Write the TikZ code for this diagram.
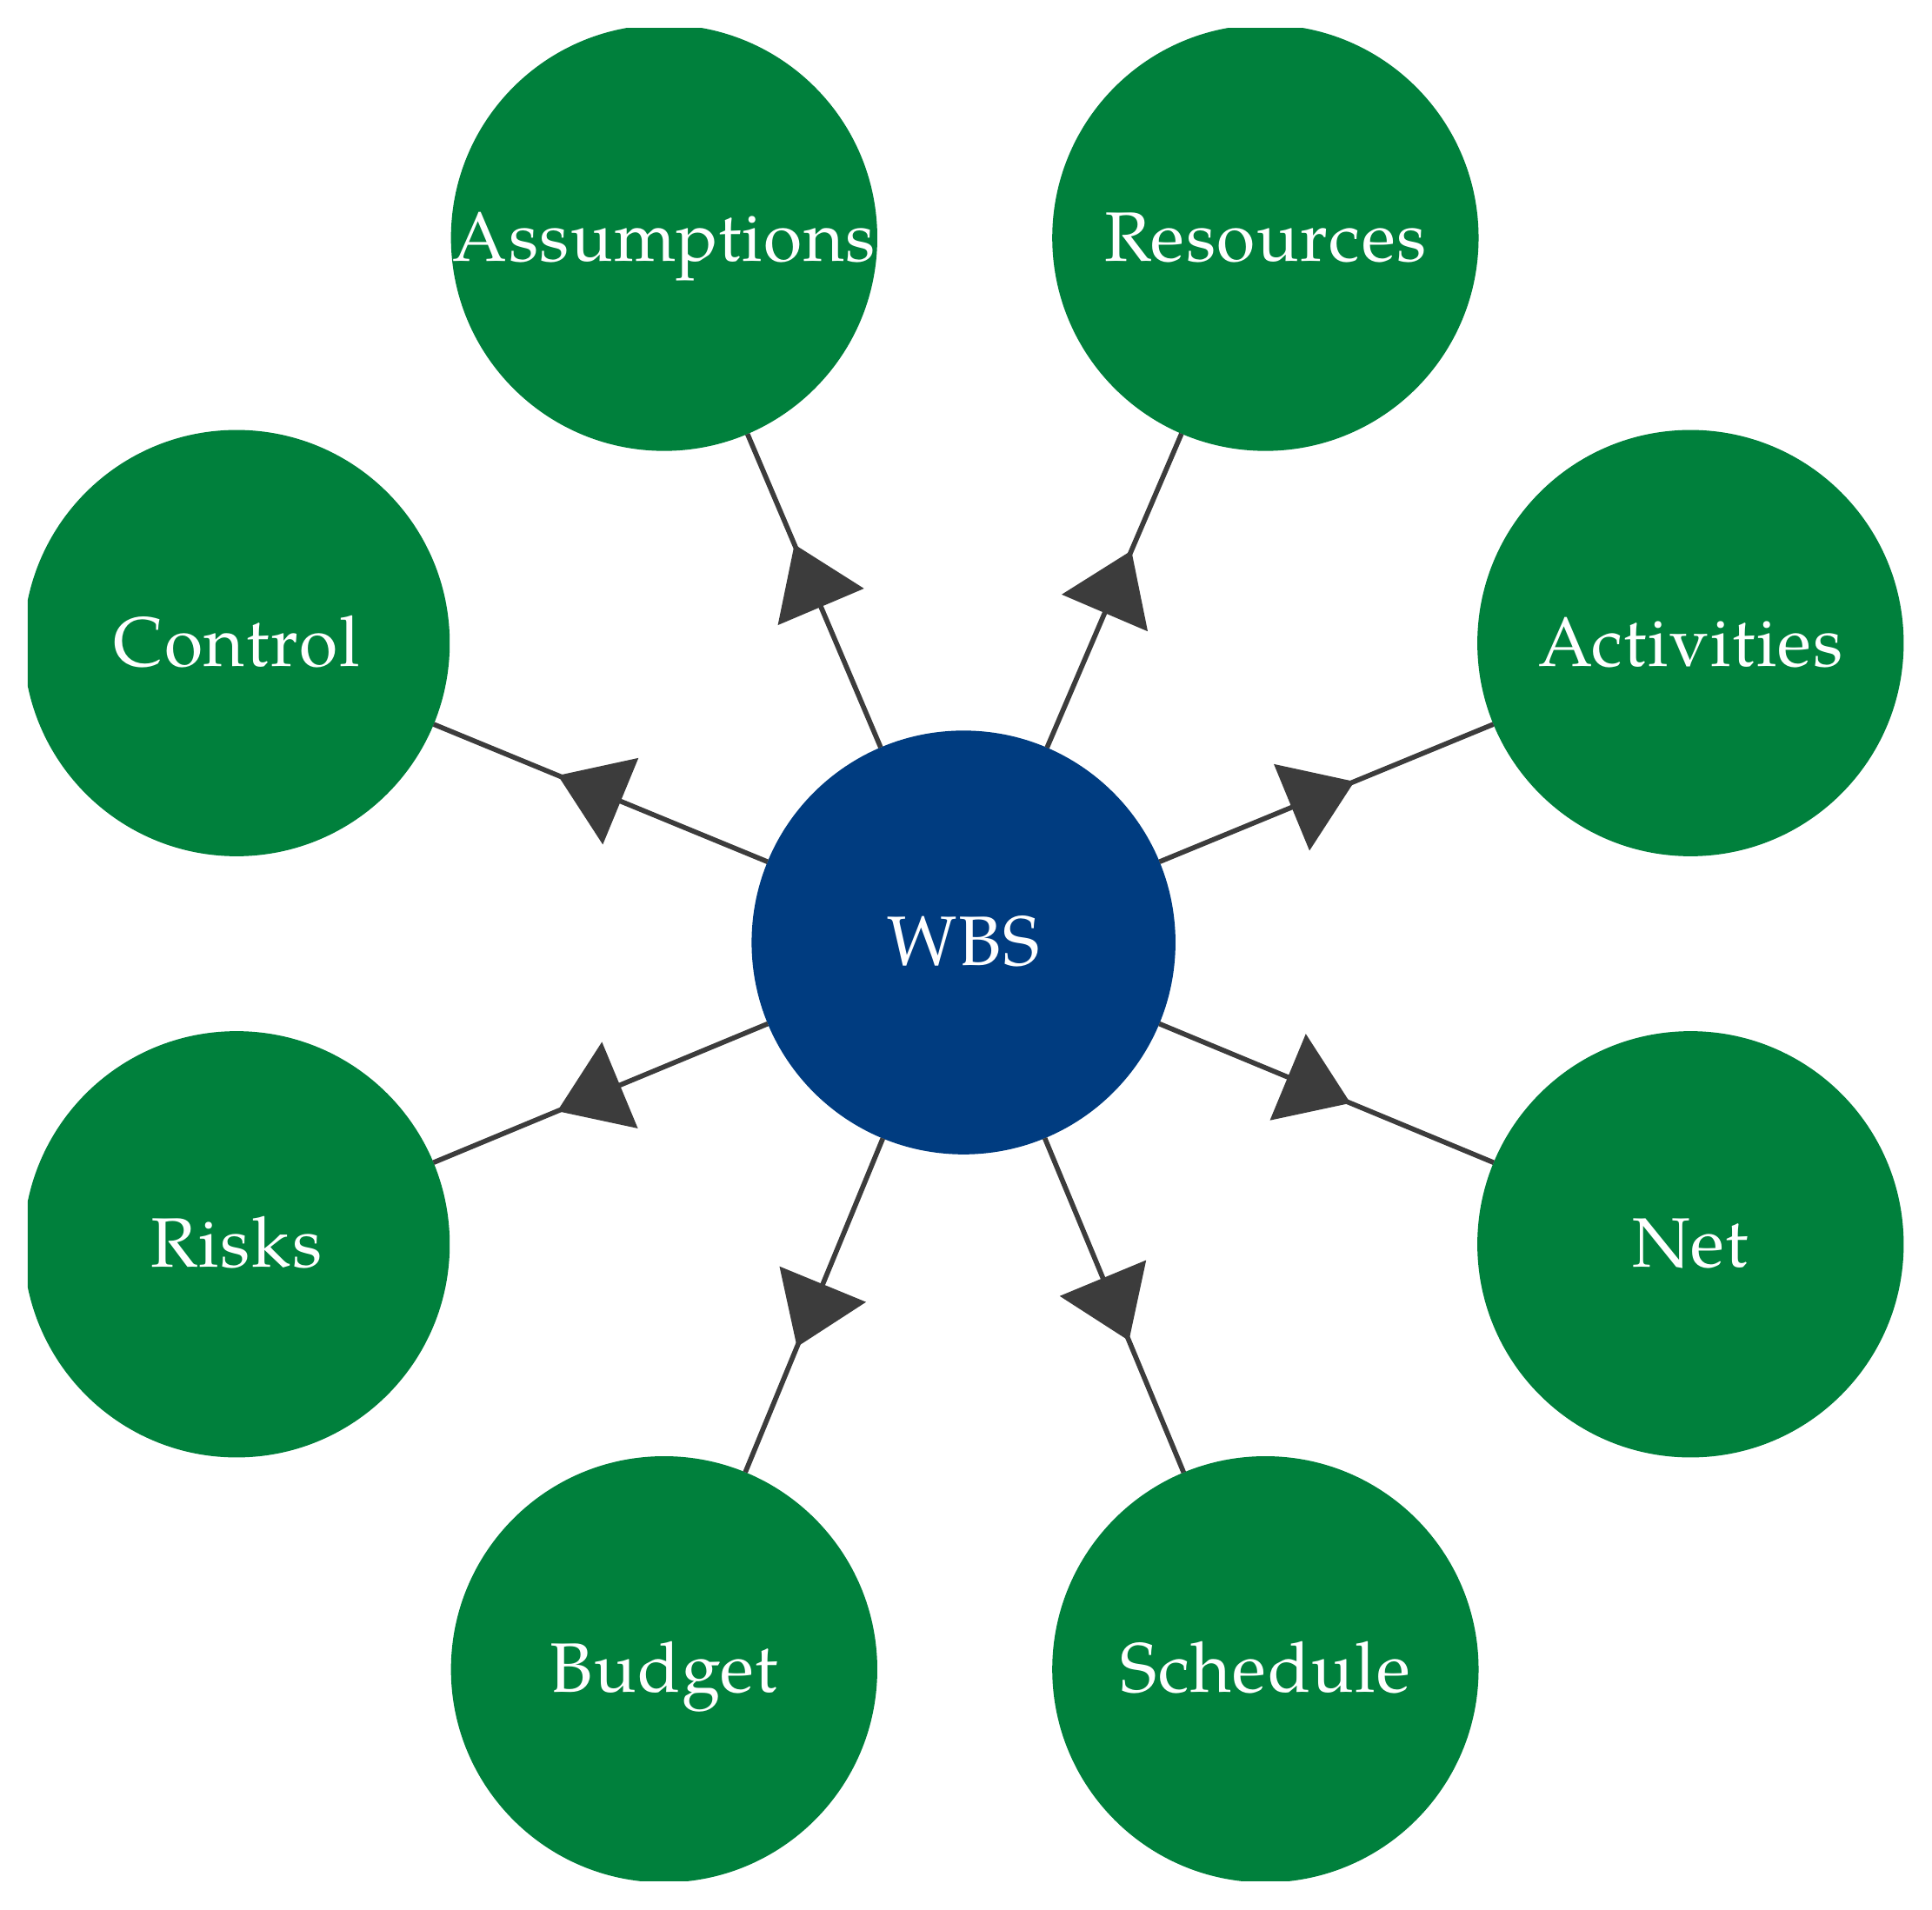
\documentclass[tikz,border=0pt]{standalone}
\usepackage{fontspec}
\setmainfont{TeX Gyre Pagella}[LetterSpace=2]
\usetikzlibrary{decorations.markings}
\definecolor{ngreen}{RGB}{0,128,60}
\definecolor{nblue}{RGB}{0,60,128}
\definecolor{edgec}{RGB}{60,60,60}
\newcommand{\lbl}[1]{\smash{\raisebox{-0.33em}{\makebox[0pt]{#1}}}}
\begin{document}
\begin{tikzpicture}[x=1bp,y=-1bp,
  outer/.style={circle,fill=ngreen,minimum size=346bp,inner sep=0pt,outer sep=0pt,text=white,font=\fontsize{57}{60}\selectfont},
  hub/.style={circle,fill=nblue,minimum size=344bp,inner sep=0pt,outer sep=0pt,text=white,font=\fontsize{57}{60}\selectfont},
  conn/.style={draw=edgec,line width=4bp},
  tipat/.style={postaction={decorate,decoration={markings,mark=at position #1 with {\fill[edgec] (0bp,0bp) -- (-55bp,38bp) -- (-55bp,-38bp) -- cycle;}}}}
]
\useasboundingbox (0,0) rectangle (1568,1550);
\clip (22.5,23) rectangle (1545.5,1527);
\node[hub] (wbs) at (782,765) {\lbl{WBS}};
\node[outer] (assump) at (539,193) {\lbl{Assumptions}};
\node[outer] (resources) at (1027,193) {\lbl{Resources}};
\node[outer] (control) at (192,522) {\lbl{Control}};
\node[outer] (activities) at (1372,522) {\lbl{Activities}};
\node[outer] (risks) at (192,1010) {\lbl{Risks}};
\node[outer] (net) at (1372,1010) {\lbl{Net}};
\node[outer] (budget) at (539,1355) {\lbl{Budget}};
\node[outer] (schedule) at (1027,1355) {\lbl{Schedule}};
\draw[conn,tipat=179bp] (wbs) -- (assump);
\draw[conn,tipat=174bp] (wbs) -- (resources);
\draw[conn,tipat=184bp] (wbs) -- (control);
\draw[conn,tipat=171bp] (wbs) -- (activities);
\draw[conn,tipat=185bp] (wbs) -- (risks);
\draw[conn,tipat=168bp] (wbs) -- (net);
\draw[conn,tipat=183bp] (wbs) -- (budget);
\draw[conn,tipat=178bp] (wbs) -- (schedule);
\end{tikzpicture}
\end{document}
